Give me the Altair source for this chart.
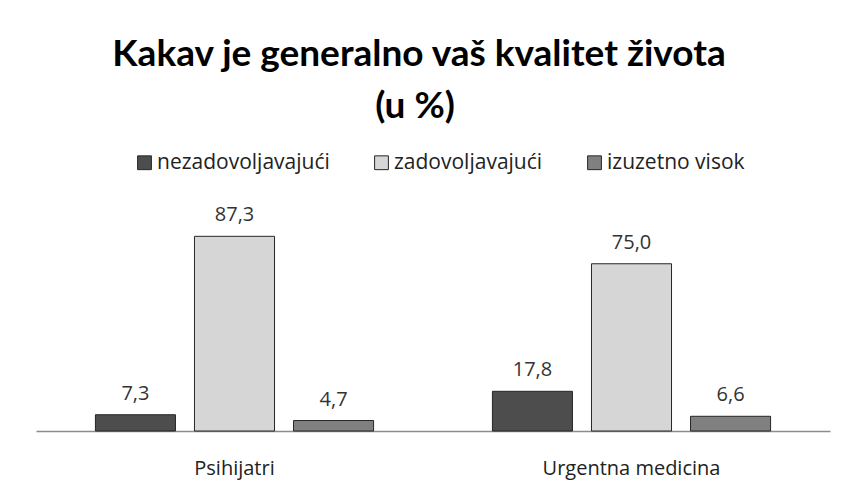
import altair as alt
import pandas as pd

categories = ["Psihijatri", "Urgentna medicina"]
series = ["nezadovoljavajući", "zadovoljavajući", "izuzetno visok"]
nezadovoljavajuci = [7.3, 17.8]
zadovoljavajuci = [87.3, 75.0]
izuzetno_visok = [4.7, 6.6]
colors = ["#4d4d4d", "#d6d6d6", "#808080"]
title_lines = ["Kakav je generalno vaš kvalitet života", "(u %)"]

rows = []
for i, c in enumerate(categories):
    for s, vals in zip(series, [nezadovoljavajuci, zadovoljavajuci, izuzetno_visok]):
        v = vals[i]
        rows.append({"kategorija": c, "serija": s, "vrijednost": v,
                     "oznaka": f"{v:.1f}".replace(".", ",")})
df = pd.DataFrame(rows)

W, H = 794, 223
FONT = "Open Sans"
TFONT = "Lato"

x = alt.X("kategorija:N", sort=categories,
          scale=alt.Scale(paddingInner=0, paddingOuter=0),
          axis=alt.Axis(title=None, labelAngle=0, ticks=False, domainColor="#8c8c8c",
                        domainWidth=1.5, labelFontSize=20, labelColor="#222222",
                        labelPadding=27, labelFont=FONT))
xo = alt.XOffset("serija:N", sort=series,
                 scale=alt.Scale(paddingInner=0.192, paddingOuter=0.6))
y = alt.Y("vrijednost:Q", scale=alt.Scale(domain=[0, 100]), axis=None)

bars = alt.Chart(df).mark_bar(stroke="#262626", strokeWidth=1).encode(
    x=x, xOffset=xo, y=y,
    color=alt.Color("serija:N", sort=series,
                    scale=alt.Scale(domain=series, range=colors),
                    legend=alt.Legend(orient="none", legendX=98, legendY=-56,
                                      direction="horizontal", title=None,
                                      symbolType="square", symbolSize=190,
                                      symbolStrokeColor="#262626", symbolStrokeWidth=1,
                                      labelFontSize=21, labelFont=FONT, labelColor="#222222",
                                      columnPadding=41, labelOffset=2, labelLimit=300)),
)
labels = alt.Chart(df).mark_text(baseline="bottom", dy=-11, fontSize=20, font=FONT,
                                 color="#333333").encode(x=x, xOffset=xo, y=y, text="oznaka:N")

one = pd.DataFrame({"a": [0]})
t1 = alt.Chart(one).mark_text(text=title_lines[0], fontSize=37, font=TFONT, fontWeight="bold",
                              baseline="alphabetic", align="center", color="#000000").encode(
    x=alt.value(383), y=alt.value(-142))
t2 = alt.Chart(one).mark_text(text=title_lines[1], fontSize=37, font=TFONT, fontWeight="bold",
                              baseline="alphabetic", align="center", color="#000000").encode(
    x=alt.value(379), y=alt.value(-90))

chart = alt.layer(bars, labels, t1, t2).properties(
    width=W, height=H,
    autosize=alt.AutoSizeParams(type="none"),
    padding={"left": 28, "top": 200, "right": 4, "bottom": 55},
).configure_view(stroke="transparent", strokeWidth=0)

chart.save("out.html", embed_options={"renderer": "svg", "actions": False})
